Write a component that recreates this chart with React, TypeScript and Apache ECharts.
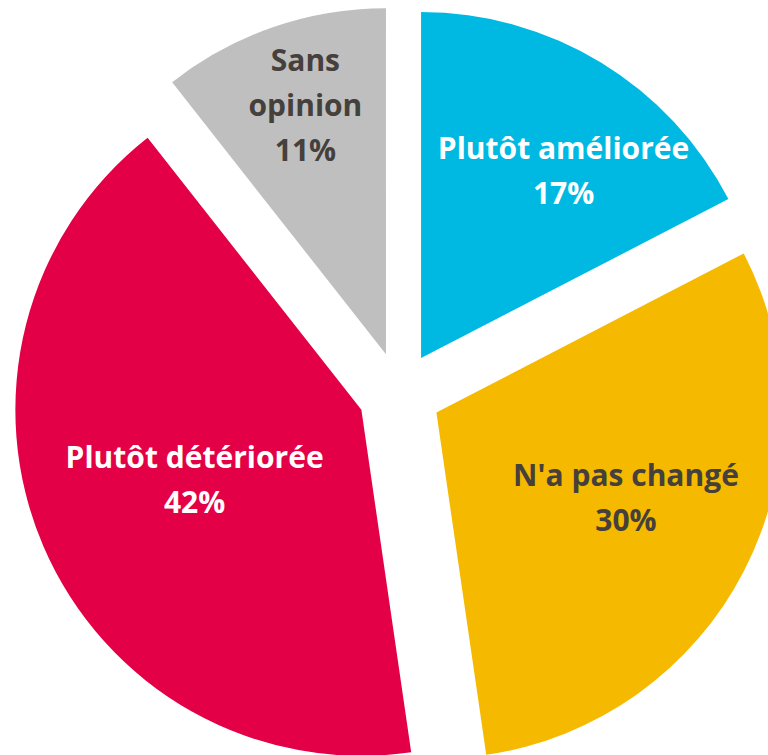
import React, { useEffect, useRef } from "react";
import * as echarts from "echarts";

const categories = ["Plutôt améliorée", "N'a pas changé", "Plutôt détériorée", "Sans opinion"];
const values = [17.4, 30.3, 41.7, 10.6];
const labelNames = ["Plutôt améliorée", "N'a pas changé", "Plutôt détériorée", "Sans\nopinion"];
const colors = ["#00B9E3", "#F5B900", "#E40046", "#BFBFBF"];
const textColors = ["#FFFFFF", "#45403B", "#FFFFFF", "#45403B"];
const labelShift = [
  [51, -38],
  [33, 4],
  [-5, 0],
  [-23, -83],
];

export default function App() {
  const ref = useRef<HTMLDivElement>(null);
  useEffect(() => {
    if (!ref.current) return;
    const chart = echarts.init(ref.current, undefined, { renderer: "svg" });
    const data = categories.map((name, i) => ({
      name,
      value: values[i],
      selected: true,
      itemStyle: { color: colors[i] },
      select: { itemStyle: { color: colors[i], borderWidth: 0 } },
      label: {
        color: textColors[i],
        formatter: () => `${labelNames[i]}\n${Math.round(values[i])}%`,
      },
    }));
    chart.setOption({
      animation: false,
      series: [
        {
          type: "pie",
          center: [399.5, 393.5],
          radius: [0, 346],
          startAngle: 90,
          clockwise: true,
          selectedMode: "multiple",
          selectedOffset: 41.5,
          silent: true,
          emphasis: { disabled: true },
          itemStyle: { borderWidth: 0 },
          label: {
            show: true,
            position: "inside",
            fontFamily: "Open Sans",
            fontWeight: "bold",
            fontSize: 30,
            lineHeight: 45,
            align: "center",
          },
          labelLine: { show: false },
          labelLayout: (p: any) => ({ dx: labelShift[p.dataIndex][0], dy: labelShift[p.dataIndex][1] }),
          data,
        },
      ],
    });
    return () => chart.dispose();
  }, []);
  return (
    <div
      ref={ref}
      style={{ position: "fixed", left: 0, top: 0, width: 768, height: 755, background: "#fff" }}
    />
  );
}
